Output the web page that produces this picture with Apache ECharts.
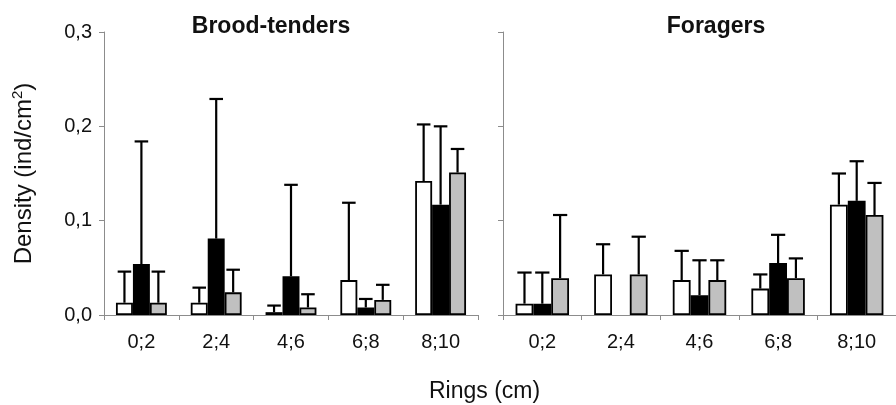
<!DOCTYPE html>
<html>
<head>
<meta charset="utf-8">
<script src="https://cdn.jsdelivr.net/npm/echarts@6/dist/echarts.min.js"></script>
<style>
html,body{margin:0;padding:0;background:#fff;}
#chart{width:896px;height:405px;}
</style>
</head>
<body>
<div id="chart"></div>
<script>
const categories = ['0;2', '2;4', '4;6', '6;8', '8;10'];
const yTicks = [0, 0.1, 0.2, 0.3];

// Brood-tenders: means and tops of error bars
const broodWhite   = [0.013, 0.013, 0.003, 0.037, 0.142];
const broodWhiteUp = [0.046, 0.029, 0.010, 0.119, 0.202];
const broodBlack   = [0.054, 0.081, 0.041, 0.008, 0.117];
const broodBlackUp = [0.184, 0.229, 0.138, 0.017, 0.200];
const broodGrey    = [0.013, 0.024, 0.008, 0.016, 0.151];
const broodGreyUp  = [0.046, 0.048, 0.022, 0.032, 0.176];

// Foragers
const forWhite   = [0.012, 0.043, 0.037, 0.028, 0.117];
const forWhiteUp = [0.045, 0.075, 0.068, 0.043, 0.150];
const forBlack   = [0.012, null, 0.021, 0.055, 0.121];
const forBlackUp = [0.045, null, 0.058, 0.085, 0.163];
const forGrey    = [0.039, 0.043, 0.037, 0.039, 0.106];
const forGreyUp  = [0.106, 0.083, 0.058, 0.060, 0.140];

const fills = ['#ffffff', '#000000', '#c0c0c0'];
const axisCol = '#8c8c8c';
const font = 'Liberation Sans, Arial, sans-serif';
const GAP = 0.32;

function errSeries(vals, ups, k, gi) {
  const data = [];
  vals.forEach((v, i) => { if (v != null && ups[i] != null) data.push([i, v, ups[i]]); });
  return {
    type: 'custom', xAxisIndex: gi, yAxisIndex: gi, z: 5, silent: true,
    data: data,
    renderItem: function (params, api) {
      const x = api.value(0), v = api.value(1), u = api.value(2);
      const c = api.coord([x, v]);
      const cu = api.coord([x, u]);
      const cat = api.size([1, 0])[0];
      const bw = cat * (1 - GAP) / 3;
      const cx = c[0] + (k - 1) * bw;
      const cap = bw * 0.8;
      const st = { stroke: '#000', lineWidth: 2.2 };
      return { type: 'group', children: [
        { type: 'line', shape: { x1: cx, y1: c[1], x2: cx, y2: cu[1] }, style: st },
        { type: 'line', shape: { x1: cx - cap / 2, y1: cu[1], x2: cx + cap / 2, y2: cu[1] }, style: st }
      ]};
    }
  };
}

function barSeries(vals, k, gi) {
  return {
    type: 'bar', xAxisIndex: gi, yAxisIndex: gi, data: vals,
    barGap: '0%', barCategoryGap: (GAP * 100) + '%',
    itemStyle: { color: fills[k], borderColor: '#000', borderWidth: 1.8 },
    z: 3, silent: true
  };
}

const groups = [
  [[broodWhite, broodWhiteUp], [broodBlack, broodBlackUp], [broodGrey, broodGreyUp]],
  [[forWhite, forWhiteUp], [forBlack, forBlackUp], [forGrey, forGreyUp]]
];
const series = [];
groups.forEach((g, gi) => {
  g.forEach((s, k) => series.push(barSeries(s[0], k, gi)));
  g.forEach((s, k) => series.push(errSeries(s[0], s[1], k, gi)));
});

function xAx(gi) {
  return {
    type: 'category', gridIndex: gi, data: categories,
    axisLine: { lineStyle: { color: axisCol, width: 1 } },
    axisTick: { show: true, length: 5, lineStyle: { color: axisCol } },
    axisLabel: { color: '#111', fontSize: 20, fontFamily: font, margin: 17 }
  };
}
function yAx(gi) {
  const o = {
    type: 'value', gridIndex: gi, min: yTicks[0], max: yTicks[yTicks.length - 1], interval: 0.1,
    splitLine: { show: false },
    axisLine: { show: true, lineStyle: { color: axisCol, width: 1 } },
    axisTick: { show: true, length: 5, lineStyle: { color: axisCol } },
    axisLabel: { show: gi === 0, color: '#111', fontSize: 20, fontFamily: font, margin: 12,
      formatter: v => v.toFixed(1).replace('.', ',') }
  };
  if (gi === 0) {
    o.name = '{n|Density (ind/cm}{s|2}{n|)}';
    o.nameLocation = 'middle';
    o.nameGap = 66;
    o.nameTextStyle = { rich: {
      n: { fontSize: 24, fontFamily: font, color: '#111', lineHeight: 28 },
      s: { fontSize: 15, fontFamily: font, color: '#111', verticalAlign: 'top', lineHeight: 28, padding: [0, 0, 11, 0] }
    }};
  }
  return o;
}

const chart = echarts.init(document.getElementById('chart'), null, { renderer: 'canvas' });
chart.setOption({
  backgroundColor: '#fff',
  animation: false,
  title: [
    { text: 'Brood-tenders', left: 266, top: 10, textAlign: 'center',
      textStyle: { fontSize: 23, fontWeight: 'bold', fontFamily: font, color: '#111' } },
    { text: 'Foragers', left: 711, top: 10, textAlign: 'center',
      textStyle: { fontSize: 23, fontWeight: 'bold', fontFamily: font, color: '#111' } }
  ],
  grid: [
    { left: 104, top: 32, width: 374, height: 283 },
    { left: 503, top: 32, width: 403, height: 283 }
  ],
  xAxis: [xAx(0), xAx(1)],
  yAxis: [yAx(0), yAx(1)],
  graphic: [
    { type: 'text', left: 429, top: 380,
      style: { text: 'Rings (cm)', fontSize: 23, fontFamily: font, fill: '#111' } }
  ],
  series: series
});
</script>
</body>
</html>
